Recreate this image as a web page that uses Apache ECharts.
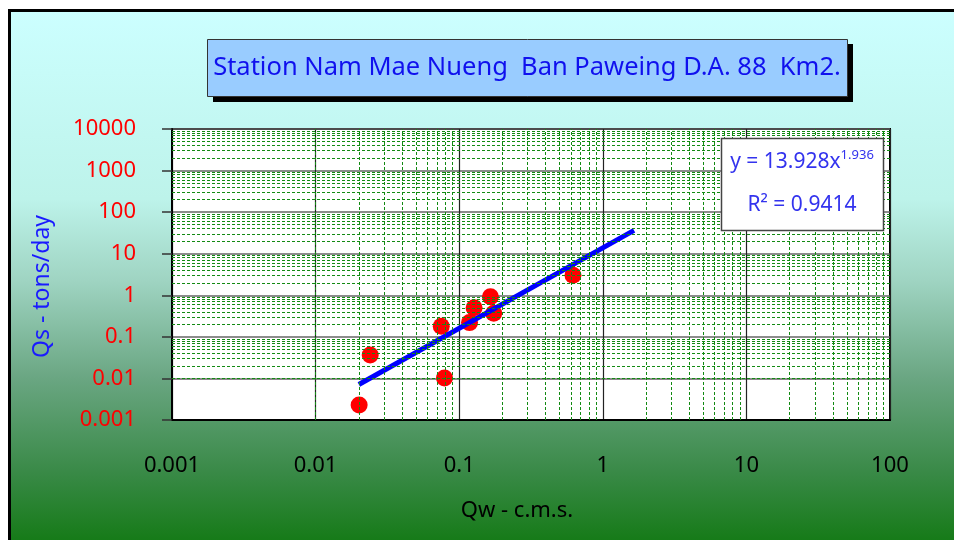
<!DOCTYPE html>
<html><head><meta charset="utf-8">
<script src="https://cdn.jsdelivr.net/npm/echarts@6/dist/echarts.min.js"></script>
<style>html,body{margin:0;padding:0;background:#fff}#c{width:954px;height:540px}</style>
</head><body><div id="c"></div>
<script>
// ---- data ----
const qw = [0.0201, 0.024, 0.075, 0.079, 0.118, 0.127, 0.165, 0.174, 0.62];
const qs = [0.0023, 0.0365, 0.18, 0.0102, 0.22, 0.50, 0.92, 0.37, 3.05];
const trendQw = [0.02, 1.65];
const trendQs = [0.00716, 36.5];
const xTicks = [0.001, 0.01, 0.1, 1, 10, 100];
const yTicks = [0.001, 0.01, 0.1, 1, 10, 100, 1000, 10000];
const minorSteps = [2, 3, 4, 5, 6, 7, 8, 9];
const titleText = 'Station Nam Mae Nueng  Ban Paweing D.A. 88  Km2.';
const xName = 'Qw - c.m.s.';
const yName = 'Qs - tons/day';
const eqCoef = '13.928';
const eqExp = '1.936';
const r2Text = '0.9414';

const FONT = 'Noto Sans';
const fmt = v => String(Number(Number(v).toPrecision(6)));

function minorValues(ticks) {
  const out = [];
  for (let i = 0; i < ticks.length - 1; i++) {
    for (const k of minorSteps) out.push(Number((ticks[i] * k).toPrecision(6)));
  }
  return out;
}
const minorLines = [];
minorValues(xTicks).forEach(v => minorLines.push({ xAxis: v }));
minorValues(yTicks).forEach(v => minorLines.push({ yAxis: v }));

const chart = echarts.init(document.getElementById('c'), null, { renderer: 'canvas' });
chart.setOption({
  animation: false,
  backgroundColor: '#ffffff',
  textStyle: { fontFamily: FONT },
  graphic: [
    {
      type: 'rect', z: -10, silent: true,
      shape: { x: 9.5, y: 10.5, width: 970, height: 540 },
      style: {
        fill: new echarts.graphic.LinearGradient(0, 0, 0, 1, [
          { offset: 0, color: '#ccffff' },
          { offset: 0.35, color: '#bdf3ea' },
          { offset: 0.5, color: '#9fd4c2' },
          { offset: 0.68, color: '#6aa682' },
          { offset: 0.85, color: '#3a8a48' },
          { offset: 1, color: '#107810' }
        ]),
        stroke: '#000', lineWidth: 3
      }
    },
    { type: 'rect', z: 5, silent: true, shape: { x: 213, y: 44, width: 640, height: 58 }, style: { fill: '#000' } },
    { type: 'rect', z: 6, silent: true, shape: { x: 207.5, y: 39.5, width: 640, height: 57 }, style: { fill: '#99ccff', stroke: '#333', lineWidth: 1 } },
    { type: 'text', z: 7, silent: true, x: 527, y: 68, style: { text: titleText, align: 'center', verticalAlign: 'middle', fontFamily: FONT, fontSize: 25.5, fill: '#1010ee' } },
    { type: 'rect', z: 20, silent: true, shape: { x: 721.5, y: 138.5, width: 162, height: 92 }, style: { fill: '#fff', stroke: '#444', lineWidth: 1.5 } },
    {
      type: 'text', z: 21, silent: true, x: 802, y: 161,
      style: {
        text: '{a|y = ' + eqCoef + 'x}{s|' + eqExp + '}',
        align: 'center', verticalAlign: 'middle',
        rich: {
          a: { fontFamily: FONT, fontSize: 21, fill: '#3333ee', color: '#3333ee', verticalAlign: 'bottom' },
          s: { fontFamily: FONT, fontSize: 13, fill: '#3333ee', color: '#3333ee', verticalAlign: 'top', padding: [0, 0, 11, 0] }
        }
      }
    },
    { type: 'text', z: 21, silent: true, x: 802, y: 205, style: { text: 'R² = ' + r2Text, align: 'center', verticalAlign: 'middle', fontFamily: FONT, fontSize: 21, fill: '#3333ee' } }
  ],
  grid: {
    left: 172, top: 129, width: 718, height: 291,
    show: true, backgroundColor: '#ffffff', borderColor: '#000', borderWidth: 2
  },
  xAxis: {
    type: 'log', logBase: 10, min: xTicks[0], max: xTicks[xTicks.length - 1],
    axisLine: { show: true, lineStyle: { color: '#000', width: 2 } },
    axisTick: { show: false },
    axisLabel: { color: '#000', fontSize: 22, margin: 35, fontFamily: FONT, formatter: fmt, showMinLabel: true, showMaxLabel: true },
    splitLine: { show: true, lineStyle: { color: '#222', width: 1.2 } },
    name: xName, nameLocation: 'middle', nameGap: 80,
    nameTextStyle: { color: '#000', fontSize: 22, fontFamily: FONT, padding: [0, 28, 0, 0] }
  },
  yAxis: {
    type: 'log', logBase: 10, min: yTicks[0], max: yTicks[yTicks.length - 1],
    axisLine: { show: true, lineStyle: { color: '#000', width: 2 } },
    axisTick: { show: true, length: 10, inside: false, lineStyle: { color: '#333', width: 1.5 } },
    axisLabel: { color: '#ff0000', fontSize: 22, margin: 36, fontFamily: FONT, formatter: fmt, showMinLabel: true, showMaxLabel: true },
    splitLine: { show: true, lineStyle: { color: '#666', width: 1.6 } },
    name: yName, nameLocation: 'middle', nameGap: 118,
    nameTextStyle: { color: '#1a1aff', fontSize: 23, fontFamily: FONT, padding: [0, 24, 0, 0] }
  },
  series: [
    {
      type: 'line', name: 'minor grid', data: [], z: 1, silent: true,
      markLine: {
        silent: true, symbol: ['none', 'none'], animation: false,
        label: { show: false },
        lineStyle: { type: [3, 2], color: '#138a13', width: 1 },
        data: minorLines
      }
    },
    {
      type: 'scatter', name: 'Qs', z: 3,
      data: qw.map((x, i) => [x, qs[i]]),
      symbol: 'circle', symbolSize: 17,
      itemStyle: { color: '#ff0000', opacity: 1 }
    },
    {
      type: 'line', name: 'trend', z: 4,
      data: trendQw.map((x, i) => [x, trendQs[i]]),
      showSymbol: false, symbol: 'none',
      lineStyle: { color: '#0000ff', width: 5 }
    }
  ]
});
</script>
</body></html>
